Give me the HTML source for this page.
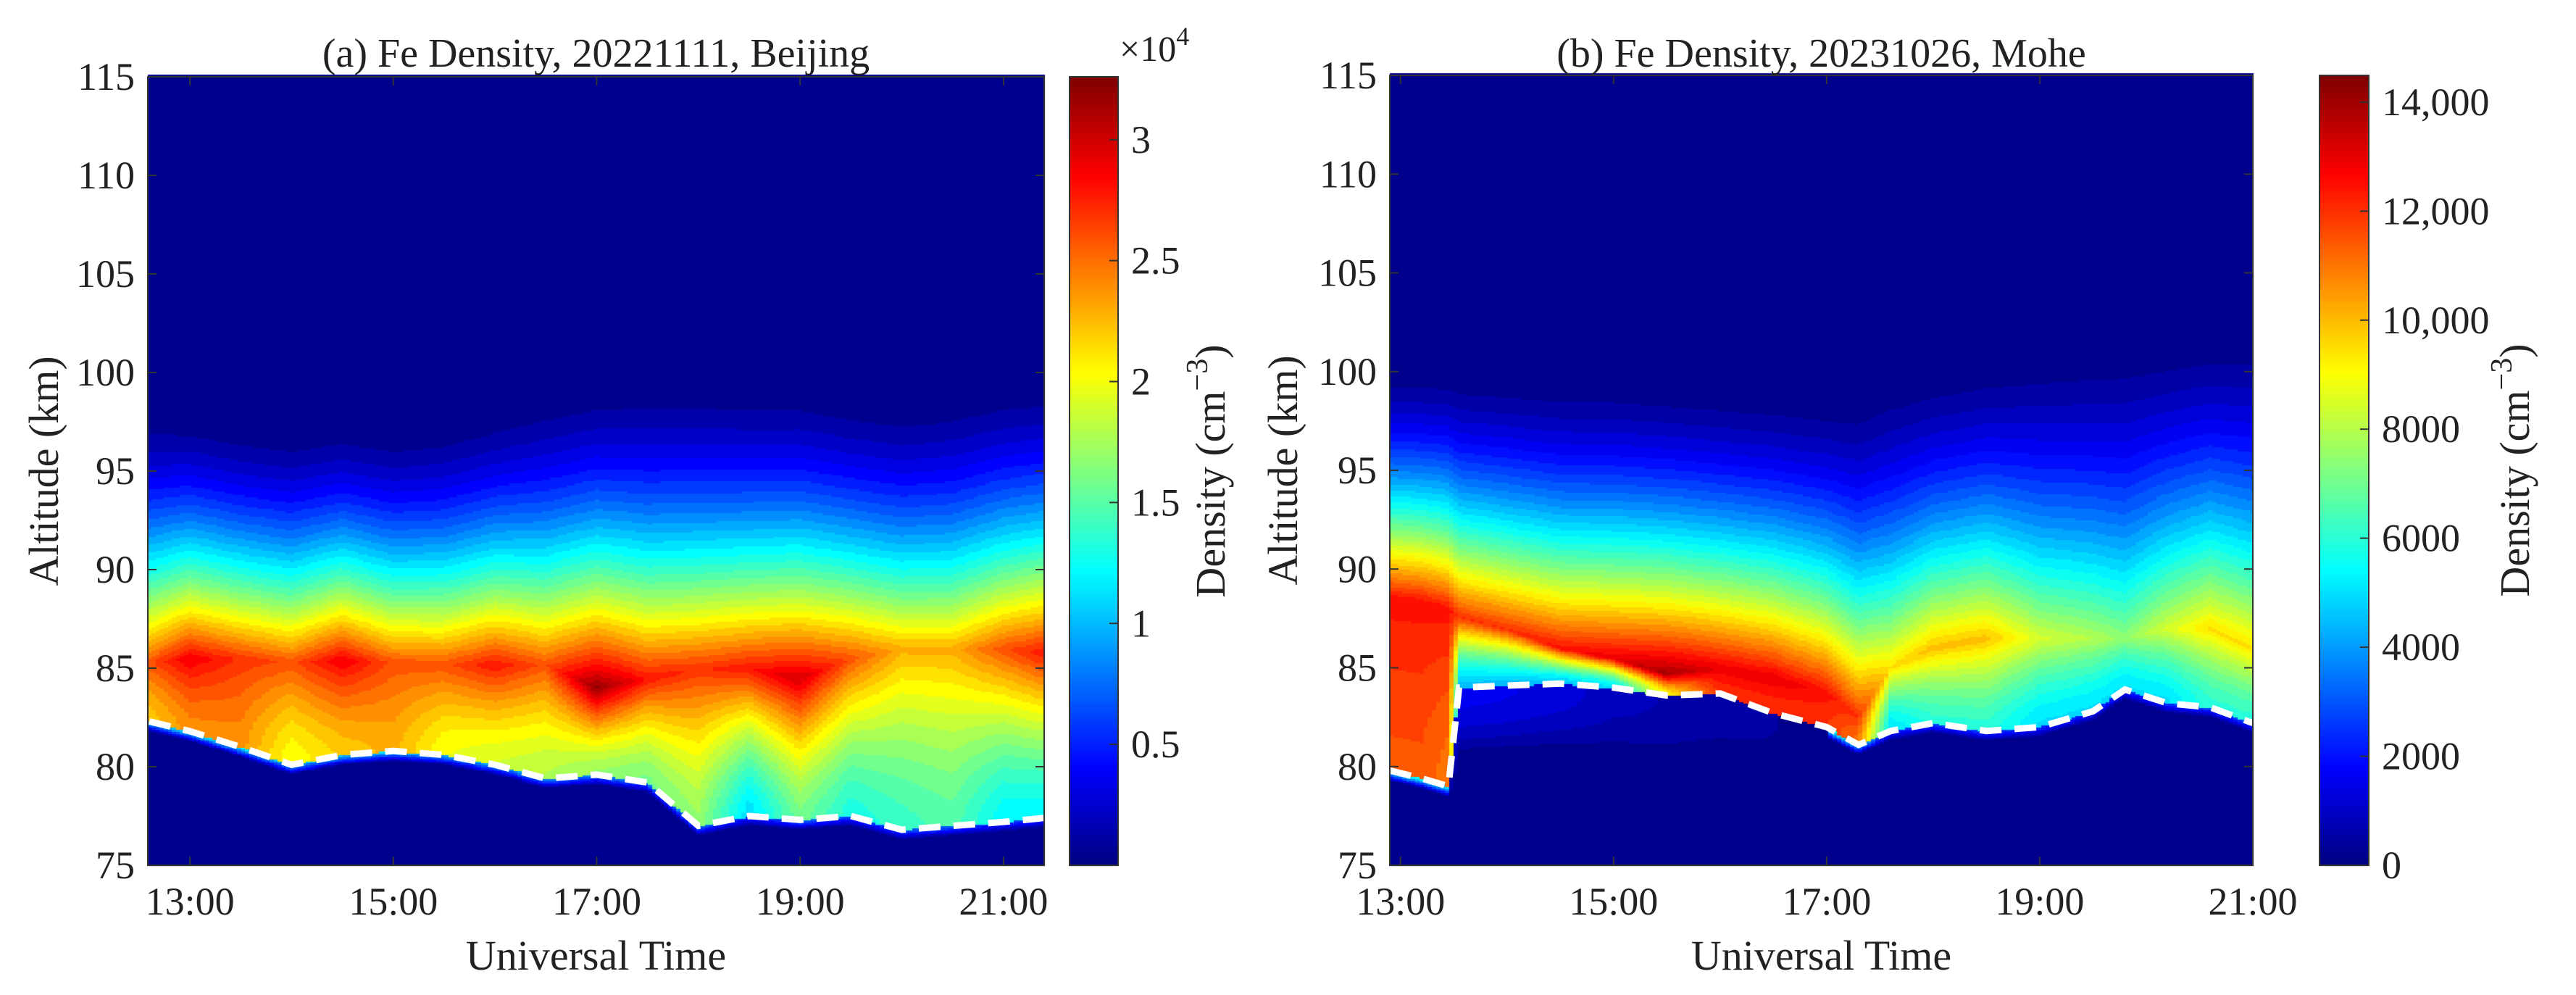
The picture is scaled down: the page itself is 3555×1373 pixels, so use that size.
<!DOCTYPE html>
<html><head><meta charset="utf-8"><style>
html,body{margin:0;padding:0;background:#fff;}
#wrap{position:relative;width:3555px;height:1373px;overflow:hidden;}
canvas,svg{position:absolute;left:0;top:0;}
svg text{font-family:"Liberation Serif","DejaVu Serif",serif;}
</style></head><body>
<div id="wrap">
<canvas id="cv" width="3555" height="1373"></canvas>
<svg id="sv" width="3555" height="1373" fill="#222"></svg>
</div>
<script>
// ---- Panel (a) Beijing data ----
const timesA   = [12.6,13,13.5,14,14.5,15,15.5,16,16.5,17,17.5,18,18.5,19,19.5,20,20.5,21,21.4];
const bottomA  = [82.3,81.8,81.0,80.1,80.6,80.8,80.6,80.1,79.4,79.6,79.2,77.0,77.5,77.3,77.5,76.8,77.0,77.2,77.4];
const peakAltA = [85.3,85.5,85.5,85.3,85.4,85.3,85.2,85.2,85.2,84.0,84.5,85.0,85.0,84.5,85.5,86.0,86.0,86.0,85.8];
const peakA    = [26000,29000,27000,26000,29000,26000,26000,28000,26000,32000,28000,27000,28000,30000,26000,23000,23000,26000,28000];
const lowA     = [22000,24000,24000,20000,22000,23000,20000,19000,18000,17000,16000,17000,11000,16000,13000,14000,15000,12000,12000];
const topA     = [98.5,98.3,97.8,97.5,97.8,97.5,97.8,98.5,99.3,99.8,100,100,99.8,99.8,99.3,99.0,99.3,99.8,100];
const cbTicksA = [0.5,1,1.5,2,2.5,3];
// ---- Panel (b) Mohe data ----
const timesB   = [12.9,13.2,13.45,13.55,14,14.5,15,15.5,16,16.5,17,17.3,17.6,18,18.5,19,19.5,19.8,20.2,20.6,21.0];
const bottomB  = [79.8,79.4,79.0,84.0,84.1,84.2,84.0,83.6,83.7,82.7,82.0,81.1,81.8,82.2,81.8,82.0,82.8,83.9,83.2,83.0,82.2];
const peakAltB = [88.6,88.4,88.0,87.6,87.0,86.0,85.5,84.7,85.0,84.5,83.8,82.5,85.0,86.0,86.5,86.5,86.5,86.5,87.0,87.0,86.0];
const peakB    = [12500,12500,12500,12000,12000,12500,13000,14000,13000,13000,12500,12000,9500,10000,10000,8500,8000,7500,8500,9500,9500];
const lowB     = [11500,11500,11000,4500,4500,4500,5000,9000,12000,12000,12000,11000,5000,6000,6000,5000,5000,5000,5000,6000,6000];
const topB     = [100.5,100.5,100.5,100.3,100.2,100,100,99.8,99.6,99.4,99.2,99.2,100,100.5,101,101.5,101.8,102,102.2,102.4,102.5];
const subB     = [0,0,0,1600,1500,1300,900,700,600,400,0,0,0,0,0,0,0,0,0,0,0];
const cbTicksB = [0,2000,4000,6000,8000,10000,12000,14000];
const cbLabelsB= ["0","2000","4000","6000","8000","10,000","12,000","14,000"];
const yTicks   = [75,80,85,90,95,100,105,110,115];
const xTicks   = [13,15,17,19,21];
const xLabels  = ["13:00","15:00","17:00","19:00","21:00"];

const NS="http://www.w3.org/2000/svg";
const sv=document.getElementById('sv');
const ctx=document.getElementById('cv').getContext('2d');
function mk(tag,attrs,parent){const e=document.createElementNS(NS,tag);for(const k in attrs)e.setAttribute(k,attrs[k]);(parent||sv).appendChild(e);return e;}
function interp(ts,arr,t){if(t<=ts[0])return arr[0];for(let i=1;i<ts.length;i++){if(t<=ts[i]){const f=(t-ts[i-1])/(ts[i]-ts[i-1]);return arr[i-1]+f*(arr[i]-arr[i-1]);}}return arr[arr.length-1];}
function jet(v){v=Math.max(0,Math.min(1,v));const c=x=>Math.round(255*Math.max(0,Math.min(1,x)));
 return `rgb(${c(1.5-Math.abs(4*v-3))},${c(1.5-Math.abs(4*v-2))},${c(1.5-Math.abs(4*v-1))})`;}

const panels=[
 {id:'a',x0:204,x1:1441,y0:106,y1:1194,tmin:12.586,tmax:21.40,vmax:32600,levels:36,
  ts:timesA,bot:bottomA,pz:peakAltA,pk:peakA,lo:lowA,tp:topA,sub:null,
  cx0:1476,cx1:1543,title:"(a)  Fe Density, 20221111, Beijing"},
 {id:'b',x0:1918,x1:3109,y0:104,y1:1194,tmin:12.9,tmax:21.0,vmax:14490,levels:40,
  ts:timesB,bot:bottomB,pz:peakAltB,pk:peakB,lo:lowB,tp:topB,sub:subB,
  cx0:3201,cx1:3269,title:"(b)  Fe Density, 20231026, Mohe"}
];

function density(p,t,z){
 const b=interp(p.ts,p.bot,t),zp=interp(p.ts,p.pz,t),pk=interp(p.ts,p.pk,t),lo=interp(p.ts,p.lo,t),tp=interp(p.ts,p.tp,t);
 if(z>=zp){if(z>=tp)return 0;const r=(tp-z)/(tp-zp);return pk*Math.pow(r,1.6);}
 if(z>=b){const r=(z-b)/Math.max(0.3,zp-b);return lo+(pk-lo)*Math.pow(r,1.5);}
 const s=p.sub?interp(p.ts,p.sub,t):0;
 if(s>0){const d=(b-z)/3.5;if(d<1)return s*(1-d*d);return 0;}
 const d=(b-z)/0.5;return d>=1?0:lo*(1-d)*0.5;
}

panels.forEach(p=>{
 const X=t=>p.x0+(t-p.tmin)/(p.tmax-p.tmin)*(p.x1-p.x0);
 const Y=z=>p.y1-(z-75)/40*(p.y1-p.y0);
 const dt=0.04,dz=0.1;
 for(let t=p.tmin;t<p.tmax;t+=dt){for(let z=75;z<115;z+=dz){
   let v=density(p,t+dt/2,z+dz/2)/p.vmax;
   v=Math.floor(v*p.levels)/p.levels+0.5/p.levels;
   ctx.fillStyle=jet(v);
   const xa=X(t),xb=Math.min(X(t+dt),p.x1),ya=Y(z+dz),yb=Y(z);
   ctx.fillRect(Math.floor(xa),Math.floor(ya),Math.ceil(xb-xa)+1,Math.ceil(yb-ya)+1);
 }}
 const CY=v=>p.y1-v/p.vmax*(p.y1-p.y0);
 for(let i=0;i<256;i++){const v0=i/256*p.vmax,v1=(i+1)/256*p.vmax;
   ctx.fillStyle=jet((i+0.5)/256);ctx.fillRect(p.cx0,Math.floor(CY(v1)),p.cx1-p.cx0,Math.ceil(CY(v0)-CY(v1))+1);}
 const g=mk('g',{});
 
 
 const pts=p.ts.map((t,i)=>X(t).toFixed(1)+','+Y(p.bot[i]).toFixed(1)).join(' ');
 const pl=mk('polyline',{points:pts,fill:'none',stroke:'#fff','stroke-width':9,'stroke-dasharray':'30 18'},g);
 
 
 const bx=mk('rect',{x:p.x0,y:p.y0,width:p.x1-p.x0,height:p.y1-p.y0,fill:'none',stroke:'#333','stroke-width':2},g);
 
 
 yTicks.forEach(v=>{const y=Y(v);
   mk('line',{x1:p.x0,x2:p.x0+12,y1:y,y2:y,stroke:'#333','stroke-width':2},g);
   mk('line',{x1:p.x1,x2:p.x1-12,y1:y,y2:y,stroke:'#333','stroke-width':2},g);
   const tx=mk('text',{x:p.x0-18,y:y+18,'text-anchor':'end','font-size':54},g);tx.textContent=v;
   
   });
 xTicks.forEach((v,i)=>{const x=X(v);
   mk('line',{x1:x,x2:x,y1:p.y1,y2:p.y1-12,stroke:'#333','stroke-width':2},g);
   mk('line',{x1:x,x2:x,y1:p.y0,y2:p.y0+12,stroke:'#333','stroke-width':2},g);
   const tx=mk('text',{x:x,y:1262,'text-anchor':'middle','font-size':54},g);tx.textContent=xLabels[i];
   
   });
 const xt=mk('text',{x:(p.x0+p.x1)/2,y:1338,'text-anchor':'middle','font-size':58},g);xt.textContent='Universal Time';
 
 
 const ax=p.id==='a'?80:1790;
 const yt=mk('text',{x:ax,y:(p.y0+p.y1)/2,'text-anchor':'middle','font-size':58,transform:`rotate(-90 ${ax} ${(p.y0+p.y1)/2})`},g);yt.textContent='Altitude (km)';
 
 
 const tt=mk('text',{x:(p.x0+p.x1)/2,y:92,'text-anchor':'middle','font-size':56},g);tt.textContent=p.title;
 
 
 const cb=mk('rect',{x:p.cx0,y:p.y0,width:p.cx1-p.cx0,height:p.y1-p.y0,fill:'none',stroke:'#333','stroke-width':2},g);
 
 
 const ticks=p.id==='a'?cbTicksA.map(v=>v*1e4):cbTicksB;
 const labs=p.id==='a'?cbTicksA.map(String):cbLabelsB;
 ticks.forEach((v,i)=>{const y=CY(v);
   mk('line',{x1:p.cx1,x2:p.cx1-12,y1:y,y2:y,stroke:'#333','stroke-width':2},g);
   const tx=mk('text',{x:p.cx1+18,y:y+18,'font-size':54},g);tx.textContent=labs[i];
   
   });
 const lx=p.id==='a'?1690:3490,ly=(p.y0+p.y1)/2;
 const dl=mk('text',{x:lx,y:ly,'text-anchor':'middle','font-size':58,transform:`rotate(-90 ${lx} ${ly})`},g);
 dl.innerHTML='Density (cm<tspan dy="-24" font-size="42">−3</tspan><tspan dy="24">)</tspan>';
 
 
});
const ex=mk('text',{x:1545,y:84,'font-size':50});
ex.innerHTML='×10<tspan dy="-22" font-size="36">4</tspan>';


</script>
</body></html>
